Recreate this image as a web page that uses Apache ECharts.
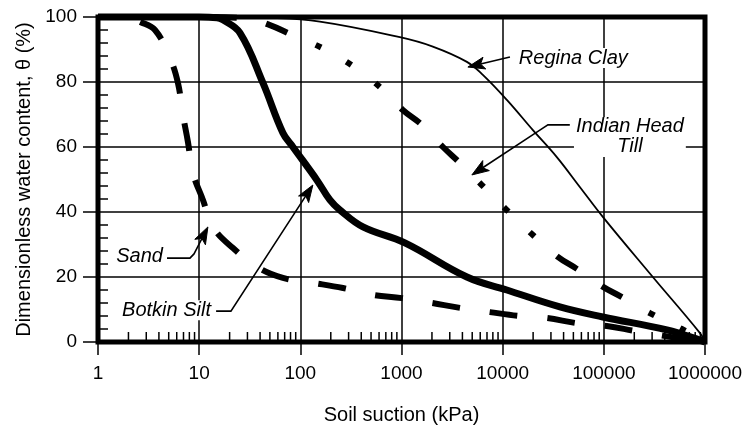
<!DOCTYPE html>
<html>
<head>
<meta charset="utf-8">
<script src="https://cdn.jsdelivr.net/npm/echarts@6/dist/echarts.min.js"></script>
<style>
html,body{margin:0;padding:0;background:#fff;}
#chart{width:748px;height:426px;}
</style>
</head>
<body>
<div id="chart"></div>
<script>
// ---- Data ----
const xTickLabels = ['1', '10', '100', '1000', '10000', '100000', '1000000'];
const yTickLabels = ['0', '20', '40', '60', '80', '100'];

const sandX = [1, 2, 2.6, 3.66, 5.14, 6.17, 6.92, 7.75, 8.68, 10.9, 13.7, 21.6, 37.3, 67.3, 133, 264, 521, 1010, 2000, 3780, 7480, 14800, 27300, 54100, 107000, 203000, 708000, 1000000];
const sandY = [100, 99.8, 98.5, 96, 87.4, 79.7, 69.8, 61.5, 52, 43.7, 35.4, 28.9, 23.1, 19.7, 18.2, 16.6, 14.5, 13.5, 12, 10.5, 9.2, 8, 7.4, 5.8, 4.9, 3.4, 0.6, 0];

const botkinX = [1, 10, 15, 17.2, 25.3, 42.7, 67.3, 84.5, 146, 196, 246, 416, 1080, 4430, 11000, 36800, 97700, 420000, 1000000];
const botkinY = [100, 100, 99.8, 99.1, 95.1, 79.7, 64.3, 60, 49.8, 43.7, 40.6, 35.4, 30.5, 20, 16, 10.8, 7.7, 3.7, 0];

const reginaX = [1, 10, 50, 156, 964, 2040, 4430, 6370, 11000, 19900, 34300, 57900, 97700, 305000, 889000, 1000000];
const reginaY = [100, 100, 99.7, 98.6, 93.8, 90.9, 86.2, 82.2, 74.5, 65.2, 56.9, 47.7, 38.5, 20, 2.8, 0];

const indianX = [1, 10, 30, 50.1, 82.6, 163, 331, 626, 1030, 1590, 2570, 3780, 6230, 11000, 19900, 35100, 54100, 95500, 151000, 285000, 590000, 1000000];
const indianY = [100, 100, 99.5, 97.5, 94.5, 90.5, 84.9, 78.2, 71.4, 66.8, 60, 55.1, 48.3, 40.6, 32.9, 26.2, 22.5, 17.2, 13.8, 8.9, 4, 0];

const seriesNames = ['Sand', 'Botkin Silt', 'Regina Clay', 'Indian Head Till'];

// minor tick values (axis decoration)
const xMinorTicks = [];
for (let k = 0; k < 6; k++) for (let m = 2; m <= 9; m++) xMinorTicks.push(m * Math.pow(10, k));
const yMinorTicks = [];
for (let v = 4; v < 100; v += 4) if (v % 20 !== 0) yMinorTicks.push(v);

// annotation labels with leader arrows (anchored in data coordinates)
const annotations = [
  { text: 'Regina Clay', tx: 13800, ty: 87.4, align: 'left', path: [[11800, 87.7], [4530, 84.6]] },
  { text: 'Indian Head\nTill', tx: 181000, ty: 63.1, align: 'center', path: [[46100, 66.8], [28000, 66.8], [23300, 65.2], [4960, 51.4]] },
  { text: 'Sand', tx: 4.59, ty: 26.2, align: 'right', path: [[4.81, 25.8], [8.11, 25.8], [8.89, 27.1], [12.2, 35.4]] },
  { text: 'Botkin Silt', tx: 13.7, ty: 9.8, align: 'right', path: [[14.7, 9.5], [20.6, 9.5], [133, 48.3]] }
];

const zip = (xs, ys) => xs.map((x, i) => [x, ys[i]]);
const FONT = '"Liberation Sans", Arial, Helvetica, sans-serif';

const chart = echarts.init(document.getElementById('chart'), null, { renderer: 'canvas' });

function lineSeries(name, xs, ys, lineStyle) {
  return {
    name, type: 'line', data: zip(xs, ys), showSymbol: false, symbol: 'none',
    smooth: 0.4, clip: false, silent: true, z: 3,
    lineStyle: Object.assign({ color: '#000', cap: 'butt', join: 'round' }, lineStyle)
  };
}

const option = {
  animation: false,
  backgroundColor: '#fff',
  grid: {
    left: 98, right: 43, top: 17, bottom: 84, containLabel: false, outerBoundsMode: 'none',
    show: true, borderColor: '#000', borderWidth: 5, backgroundColor: 'transparent'
  },
  xAxis: {
    type: 'log', logBase: 10, min: 1, max: 1000000,
    name: 'Soil suction (kPa)', nameLocation: 'middle', nameGap: 63,
    nameTextStyle: { fontFamily: FONT, fontSize: 20, color: '#000' },
    axisLine: { show: false },
    axisTick: { show: true, inside: false, length: 13, lineStyle: { color: '#000', width: 1.5 } },
    axisLabel: {
      margin: 22, fontFamily: FONT, fontSize: 19, color: '#000',
      formatter: v => xTickLabels[Math.round(Math.log10(v))]
    },
    splitLine: { show: true, lineStyle: { color: '#000', width: 1.5 } },
    minorTick: { show: false }
  },
  yAxis: {
    type: 'value', min: 0, max: 100, interval: 20,
    name: 'Dimensionless water content, θ (%)', nameLocation: 'middle', nameGap: 58, nameRotate: 90,
    nameTextStyle: { fontFamily: FONT, fontSize: 20, color: '#000' },
    axisLine: { show: false },
    axisTick: { show: true, inside: false, length: 15, lineStyle: { color: '#000', width: 1.5 } },
    axisLabel: { margin: 21, fontFamily: FONT, fontSize: 19, color: '#000', formatter: v => yTickLabels[Math.round(v / 20)] },
    splitLine: { show: true, lineStyle: { color: '#000', width: 1.5 } }
  },
  series: [
    lineSeries(seriesNames[0], sandX, sandY, { width: 6, type: [28, 30], dashOffset: 15 }),
    lineSeries(seriesNames[1], botkinX, botkinY, { width: 7 }),
    lineSeries(seriesNames[2], reginaX, reginaY, { width: 1.8 }),
    lineSeries(seriesNames[3], indianX, indianY, { width: 6, type: [24, 30, 23, 31, 6, 29, 6, 30, 6, 30], dashOffset: 100 }),
    {
      type: 'custom', silent: true, z: 4, clip: false,
      data: xMinorTicks.map(v => [v, 0]),
      renderItem: (params, api) => {
        const p = api.coord([api.value(0), 0]);
        return { type: 'line', shape: { x1: p[0], y1: p[1], x2: p[0], y2: p[1] - 10 }, style: { stroke: '#000', lineWidth: 1.5 } };
      }
    },
    {
      type: 'custom', silent: true, z: 4, clip: false,
      data: yMinorTicks.map(v => [1, v]),
      renderItem: (params, api) => {
        const p = api.coord([1, api.value(1)]);
        return { type: 'line', shape: { x1: p[0], y1: p[1], x2: p[0] + 10, y2: p[1] }, style: { stroke: '#000', lineWidth: 1.5 } };
      }
    },
    {
      type: 'custom', silent: true, z: 5, clip: false,
      encode: { x: 0, y: 1 },
      data: annotations.map((a, i) => [a.tx, a.ty, i]),
      renderItem: (params, api) => {
        const a = annotations[api.value(2)];
        const pts = a.path.map(p => api.coord(p));
        const tip = pts[pts.length - 1];
        const prev = pts[pts.length - 2];
        let dx = tip[0] - prev[0], dy = tip[1] - prev[1];
        const len = Math.sqrt(dx * dx + dy * dy) || 1;
        dx /= len; dy /= len;
        const L = 17, W = 6;
        const bx = tip[0] - dx * L, by = tip[1] - dy * L;
        const nx = -dy, ny = dx;
        const notchX = tip[0] - dx * (L - 4), notchY = tip[1] - dy * (L - 4);
        const shaftEnd = [tip[0] - dx * (L - 4), tip[1] - dy * (L - 4)];
        const linePts = pts.slice(0, -1).concat([shaftEnd]);
        const tp = api.coord([a.tx, a.ty]);
        return {
          type: 'group',
          children: [
            { type: 'polyline', shape: { points: linePts }, style: { stroke: '#000', lineWidth: 1.6, fill: null } },
            { type: 'polygon', shape: { points: [tip, [bx + nx * W, by + ny * W], [notchX, notchY], [bx - nx * W, by - ny * W]] }, style: { fill: '#000', stroke: '#000', lineWidth: 1 } },
            {
              type: 'text', x: tp[0], y: tp[1],
              style: {
                text: a.text, fill: '#000', font: 'italic 20px ' + FONT,
                align: a.align, verticalAlign: 'middle', lineHeight: 20,
                backgroundColor: '#fff', padding: [0, 2]
              }
            }
          ]
        };
      }
    }
  ]
};
chart.setOption(option);
</script>
</body>
</html>
